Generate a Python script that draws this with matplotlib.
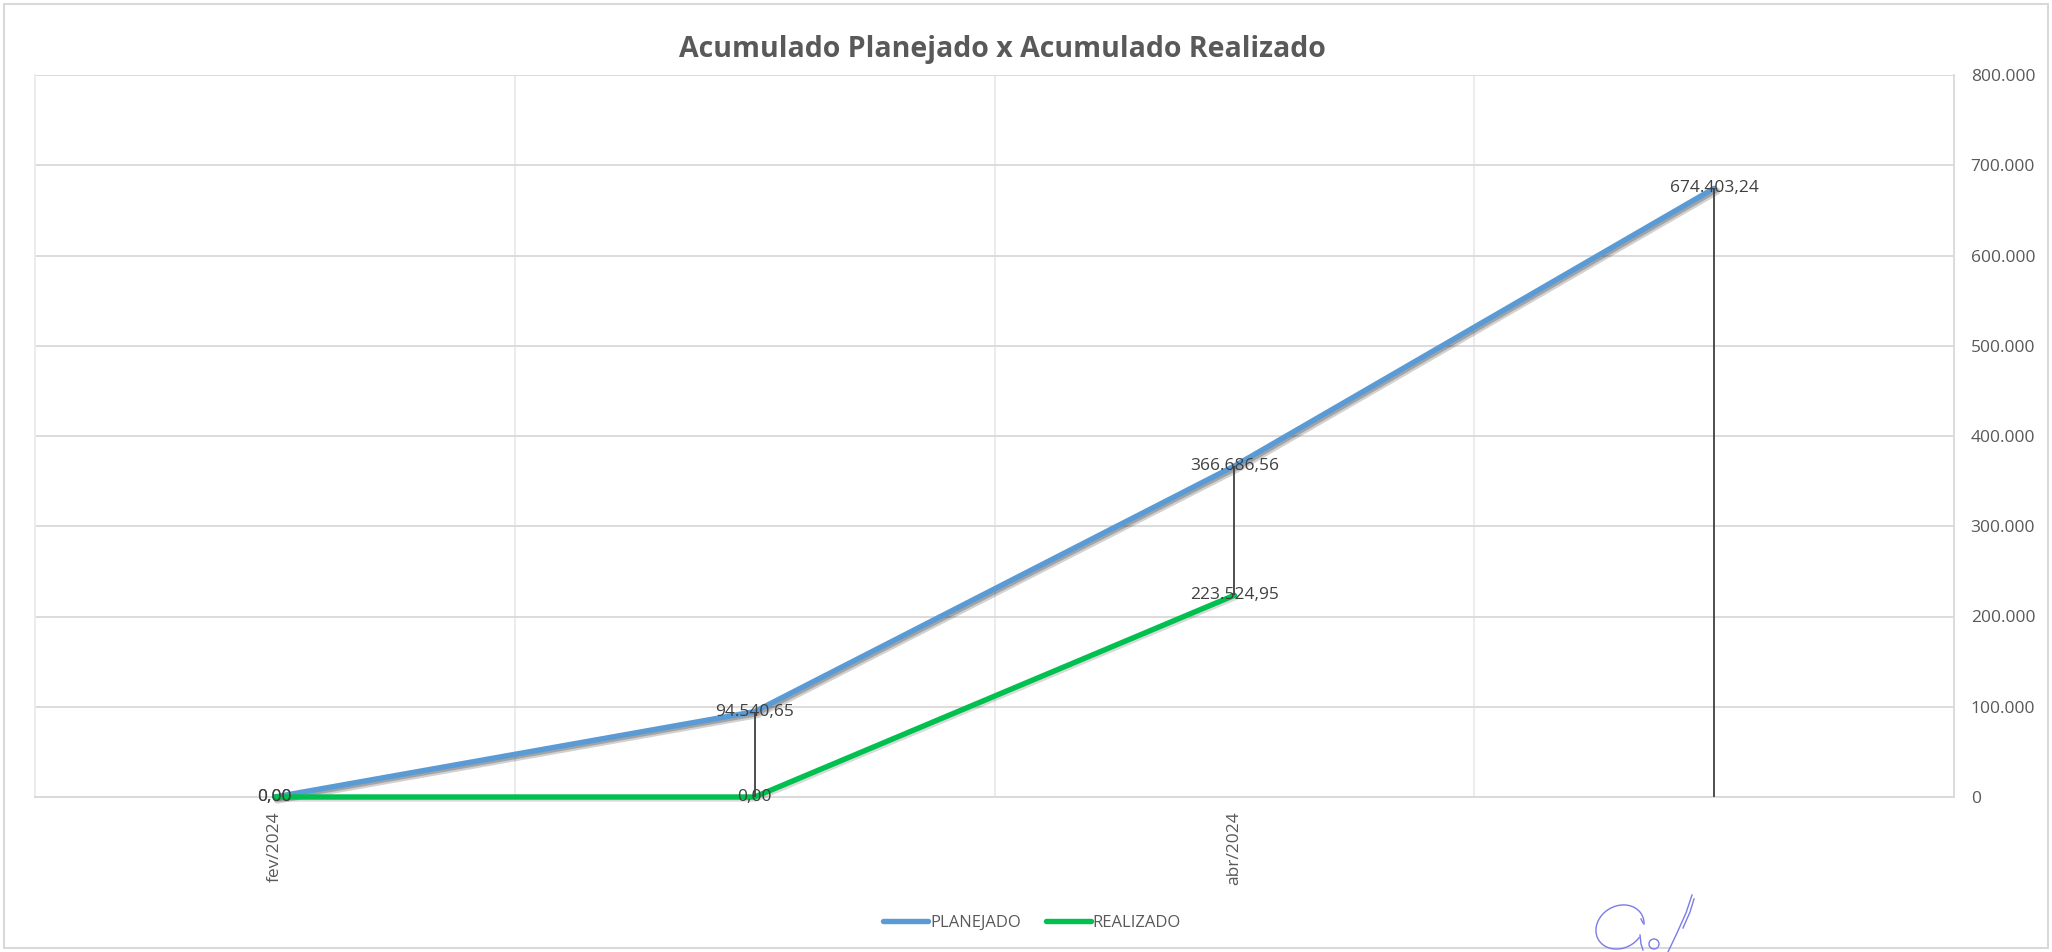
import numpy as np
import matplotlib
matplotlib.use("Agg")
import matplotlib.pyplot as plt
from matplotlib.lines import Line2D
from matplotlib.patches import Rectangle
import matplotlib.patheffects as pe

# ---- data ----
categories = ["fev/2024", "mar/2024", "abr/2024", "mai/2024"]
shown_tick_labels = {0: "fev/2024", 2: "abr/2024"}
planejado = [0.00, 94540.65, 366686.56, 674403.24]
realizado = [0.00, 0.00, 223524.95, None]
series_names = ["PLANEJADO", "REALIZADO"]
y_ticks = [0, 100000, 200000, 300000, 400000, 500000, 600000, 700000, 800000]

# ---- style ----
BLUE = "#5B9BD5"
GREEN = "#00C04F"
TXT = "#595959"
GRID_H = "#D9D9D9"
GRID_V = "#EBEBEB"
FONT = ["Open Sans", "DejaVu Sans"]
plt.rcParams["font.family"] = FONT

W, H = 2052, 952
fig = plt.figure(figsize=(W / 100, H / 100), dpi=100)
fig.patch.set_facecolor("white")

def px(x0, y0, x1, y1):
    return [x0 / W, 1 - y1 / H, (x1 - x0) / W, (y1 - y0) / H]

ax = fig.add_axes(px(35, 75, 1954, 797))
x = np.arange(len(categories))

def fmt_br(v, dec=2):
    s = f"{v:,.{dec}f}"
    return s.replace(",", "X").replace(".", ",").replace("X", ".")

shadow = [pe.SimpleLineShadow(offset=(1.8, -2.0), shadow_color="#000000", alpha=0.18, rho=1, linewidth=5.5),
          pe.SimpleLineShadow(offset=(1.2, -1.4), shadow_color="#000000", alpha=0.22, rho=1),
          pe.Normal()]

ax.plot(x, planejado, color=BLUE, lw=3.9, solid_capstyle="round", zorder=3,
        path_effects=shadow, clip_on=False)
r_idx = [i for i, v in enumerate(realizado) if v is not None]
r_val = [realizado[i] for i in r_idx]
ax.plot(r_idx, r_val, color=GREEN, lw=3.9, solid_capstyle="round", zorder=3.2,
        path_effects=[pe.SimpleLineShadow(offset=(1.2, -1.4), shadow_color="#000000", alpha=0.15, rho=1), pe.Normal()],
        clip_on=False)

# high-low (drop) lines
for i in range(len(categories)):
    vals = [planejado[i], realizado[i] if realizado[i] is not None else 0.0]
    lo, hi = min(vals), max(vals)
    if hi > lo:
        ax.vlines(i, lo, hi, color="#404040", lw=1.3, zorder=4)

# data labels
for i, v in enumerate(planejado):
    ax.text(i, v, fmt_br(v), ha="center", va="center", fontsize=12.5, color="#404040", zorder=5)
for i, v in zip(r_idx, r_val):
    ax.text(i, v, fmt_br(v), ha="center", va="center", fontsize=12.5, color="#404040", zorder=5)

ax.set_xlim(-0.5, len(categories) - 0.5)
ax.set_ylim(0, 800000)

ax.yaxis.tick_right()
ax.set_yticks(y_ticks)
ax.set_yticklabels([fmt_br(v, 0) for v in y_ticks])
ax.tick_params(axis="y", length=0, pad=12, labelsize=12.5, labelcolor=TXT)

ax.set_xticks(list(shown_tick_labels.keys()))
ax.set_xticklabels(list(shown_tick_labels.values()), rotation=90)
ax.tick_params(axis="x", length=0, pad=10, labelsize=12.5, labelcolor=TXT)

ax.set_xticks([0.5, 1.5, 2.5], minor=True)
ax.tick_params(axis="x", which="minor", length=0)
ax.grid(True, axis="y", which="major", color=GRID_H, lw=1.3, zorder=0)
ax.grid(True, axis="x", which="minor", color=GRID_V, lw=1.3, zorder=0)
ax.grid(False, axis="x", which="major")
ax.set_axisbelow(True)

ax.spines["top"].set_visible(False)
ax.spines["bottom"].set_color(GRID_H)
ax.spines["bottom"].set_linewidth(1.3)
ax.spines["left"].set_color(GRID_V)
ax.spines["left"].set_linewidth(1.3)
ax.spines["right"].set_color(GRID_H)
ax.spines["right"].set_linewidth(1.3)

# title
fig.text(1002 / W, 1 - 49 / H, "Acumulado Planejado x Acumulado Realizado",
         ha="center", va="center", fontsize=20.5, fontweight="bold", color=TXT)

# legend
handles = [Line2D([], [], color=BLUE, lw=3.9, solid_capstyle="round"),
           Line2D([], [], color=GREEN, lw=3.9, solid_capstyle="round")]
fig.legend(handles, series_names, loc="center", bbox_to_anchor=(1032 / W, 1 - 923 / H),
           ncol=2, frameon=False, fontsize=12, handlelength=2.7, handletextpad=0.1,
           columnspacing=1.5, labelcolor=TXT)

# outer chart border
fig.add_artist(Rectangle((4 / W, 4 / H), (W - 8) / W, (H - 8) / H, transform=fig.transFigure,
                         fill=False, edgecolor=GRID_H, lw=1.5))

# signature (decorative scribble)
SIG = "#7B7BE8"
def fig_line(xs, ys, **kw):
    fig.add_artist(Line2D(np.asarray(xs) / W, 1 - np.asarray(ys) / H, transform=fig.transFigure,
                          color=SIG, lw=1.0, clip_on=False, **kw))
t = np.linspace(0.35 * np.pi, 2.15 * np.pi, 90)
ox, oy = 25 * np.cos(t), 21 * np.sin(t)
ang = np.deg2rad(-30)
fig_line(1620 + ox * np.cos(ang) - oy * np.sin(ang), 927 + ox * np.sin(ang) + oy * np.cos(ang))
fig_line([1641, 1643], [919, 923])
fig_line([1640, 1641, 1643], [935, 944, 950])
te = np.linspace(0.3 * np.pi, 2.2 * np.pi, 40)
fig_line(1654 + 5 * np.cos(te), 944 + 5 * np.sin(te))
fig_line([1692, 1686, 1677, 1668], [895, 913, 933, 952])
fig_line([1694, 1690, 1683], [899, 912, 928])

fig.savefig("out.png", dpi=100, facecolor="white")
